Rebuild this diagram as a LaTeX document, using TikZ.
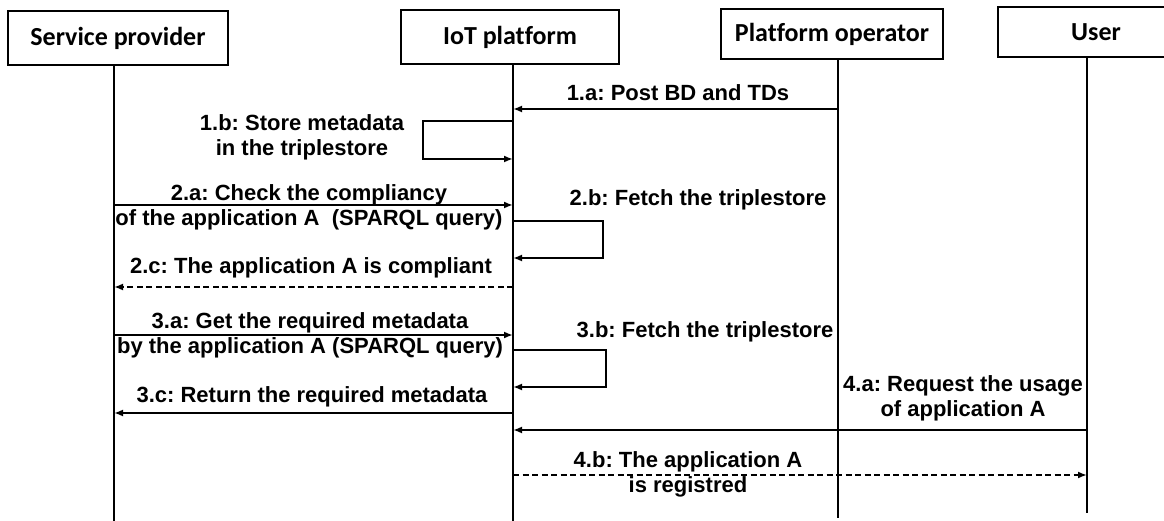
\documentclass[tikz,border=0pt]{standalone}
\usepackage{fontspec}
\setmainfont{Liberation Sans}
\newfontfamily\hdrfont[Ligatures=NoCommon]{Carlito}
\usetikzlibrary{arrows.meta}
\frenchspacing
\begin{document}
\begin{tikzpicture}[x=1pt,y=-1pt,
  actor/.style={draw,line width=2.2pt,minimum height=54pt,inner sep=0pt,
    font=\hdrfont\bfseries\fontsize{26}{30}\selectfont},
  life/.style={line width=2.6pt},
  msg/.style={line width=2.5pt,-{Latex[length=9pt,width=7pt]}},
  reply/.style={msg,dash pattern=on 6pt off 3.5pt},
  lbl/.style={font=\bfseries\fontsize{22}{25}\selectfont,align=center,inner sep=0pt}]
\useasboundingbox (0,0) rectangle (1164,521);

% actors
\node[actor,minimum width=220pt] (sp) at (118,38) {Service provider};
\node[actor,minimum width=218pt] (iot) at (510,37) {IoT platform};
\node[actor,minimum width=222pt,minimum height=50pt] (po) at (832,34) {Platform operator};
\node[actor,minimum width=196pt,minimum height=50pt] (us) at (1096,32) {User};

% lifelines
\coordinate (spB) at (114,521);
\coordinate (iotB) at (513,521);
\coordinate (poB) at (838,518);
\coordinate (usB) at (1087,513);
\draw[life] (sp.south -| spB) -- (spB);
\draw[life] (iot.south -| iotB) -- (iotB);
\draw[life] (po.south -| poB) -- (poB);
\draw[life] (us.south -| usB) -- (usB);

% 1.a
\coordinate (po1a) at (838,109);
\coordinate (iot1a) at (513,109);
\draw[msg] (po1a) -- (iot1a);
\node[lbl] (l1a) at (678,93) {1.a: Post BD and TDs};

% 1.b
\coordinate (iot1b) at (513,121);
\coordinate (c1b) at (423,121);
\coordinate (iot1bb) at (513,159);
\draw[msg] (iot1b) -- (c1b) |- (iot1bb);
\node[lbl] (l1b) at (302,137) {1.b: Store metadata\\in the triplestore};

% 2.a
\coordinate (sp2a) at (114,205);
\coordinate (iot2a) at (513,205);
\draw[msg] (sp2a) -- (iot2a);
\node[lbl] (l2a) at (309,207) {2.a: Check the compliancy\\of the application A\ \ (SPARQL query)};

% 2.b
\coordinate (iot2b) at (513,221);
\coordinate (c2b) at (603,221);
\coordinate (iot2bb) at (513,258);
\draw[msg] (iot2b) -- (c2b) |- (iot2bb);
\node[lbl] (l2b) at (698,200) {2.b: Fetch the triplestore};

% 2.c
\coordinate (iot2c) at (513,287);
\coordinate (sp2c) at (114,287);
\draw[reply] (iot2c) -- (sp2c);
\node[lbl] (l2c) at (311,268) {2.c: The application A is compliant};

% 3.a
\coordinate (sp3a) at (114,335);
\coordinate (iot3a) at (513,335);
\draw[msg] (sp3a) -- (iot3a);
\node[lbl] (l3a) at (310,335) {3.a: Get the required metadata\\by the application A (SPARQL query)};

% 3.b
\coordinate (iot3b) at (513,350);
\coordinate (c3b) at (606,350);
\coordinate (iot3bb) at (513,387);
\draw[msg] (iot3b) -- (c3b) |- (iot3bb);
\node[lbl] (l3b) at (705,332) {3.b: Fetch the triplestore};

% 3.c
\coordinate (iot3c) at (513,413);
\coordinate (sp3c) at (114,413);
\draw[msg] (iot3c) -- (sp3c);
\node[lbl] (l3c) at (312,397) {3.c: Return the required metadata};

% 4.a
\coordinate (us4a) at (1087,430);
\coordinate (iot4a) at (513,430);
\draw[msg] (us4a) -- (iot4a);
\node[lbl] (l4a) at (963,398) {4.a: Request the usage\\of application A};

% 4.b
\coordinate (iot4b) at (513,475);
\coordinate (us4b) at (1087,475);
\draw[reply] (iot4b) -- (us4b);
\node[lbl] (l4b) at (688,474) {4.b: The application A\\is registred};
\end{tikzpicture}
\end{document}
